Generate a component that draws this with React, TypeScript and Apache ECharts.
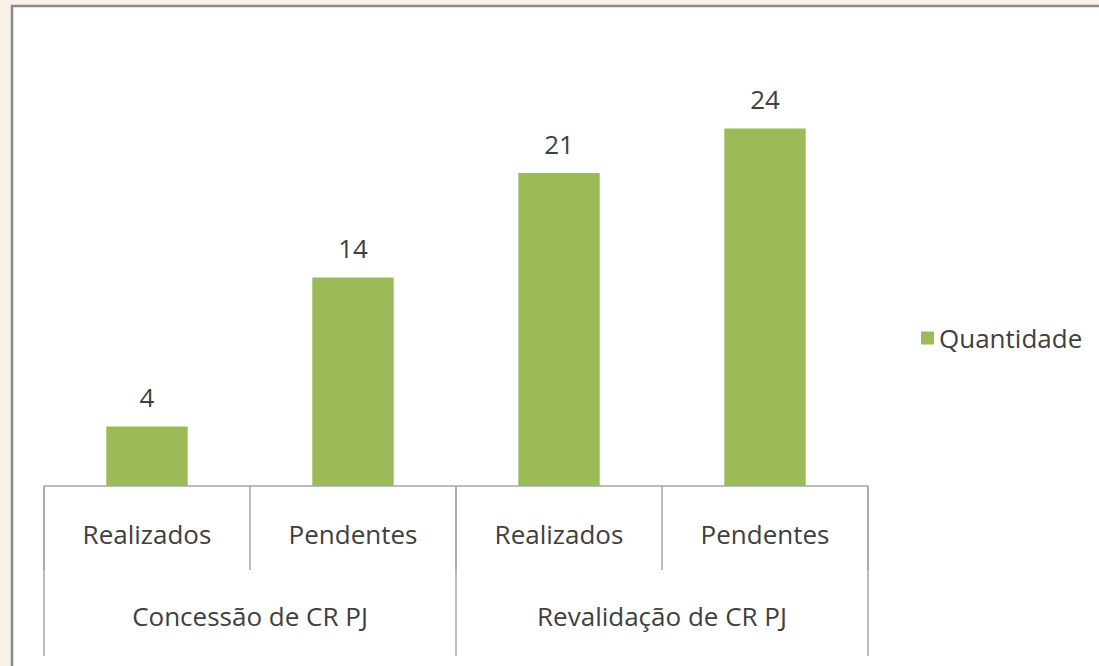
import React, { useEffect, useRef } from "react";
import * as echarts from "echarts";

const subCategories = ["Realizados", "Pendentes", "Realizados", "Pendentes"];
const groupCategories = ["Concessão de CR PJ", "Revalidação de CR PJ"];
const seriesName = "Quantidade";
const values = [4, 14, 21, 24];

const FONT = "'Open Sans', Lato, sans-serif";

export default function App() {
  const ref = useRef<HTMLDivElement>(null);
  useEffect(() => {
    if (!ref.current) return;
    const chart = echarts.init(ref.current, null, { renderer: "svg" });
    chart.setOption({
      animation: false,
      backgroundColor: "#f7f1ea",
      graphic: [
        {
          type: "rect",
          z: -10,
          shape: { x: 12, y: 6, width: 1200, height: 800 },
          style: { fill: "#ffffff", stroke: "#8a8a8a", lineWidth: 2.5 },
        },
      ],
      legend: {
        orient: "vertical",
        left: 916,
        top: 320,
        itemWidth: 13,
        itemHeight: 13,
        itemGap: 8,
        icon: "rect",
        textStyle: { fontFamily: FONT, fontSize: 26, color: "#404040" },
        data: [seriesName],
      },
      grid: { left: 44, right: 231, top: 39, bottom: 180, containLabel: false },
      xAxis: [
        {
          type: "category",
          data: subCategories,
          position: "bottom",
          axisLine: { show: true, lineStyle: { color: "#a6a6a6", width: 1.5 } },
          axisTick: {
            show: true,
            alignWithLabel: false,
            length: 84,
            lineStyle: { color: "#a6a6a6", width: 1.5 },
          },
          axisLabel: {
            margin: 35,
            fontFamily: FONT,
            fontSize: 26,
            color: "#404040",
          },
        },
        {
          type: "category",
          data: groupCategories,
          position: "bottom",
          axisLine: { show: false },
          axisTick: {
            show: true,
            length: 170,
            lineStyle: { color: "#a6a6a6", width: 1.5 },
          },
          axisLabel: {
            margin: 117,
            fontFamily: FONT,
            fontSize: 26,
            color: "#404040",
          },
        },
      ],
      yAxis: {
        type: "value",
        min: 0,
        max: 30,
        show: false,
        splitLine: { show: false },
      },
      series: [
        {
          name: seriesName,
          type: "bar",
          xAxisIndex: 0,
          data: values,
          barWidth: "39.5%",
          itemStyle: { color: "#9bbb59" },
          label: {
            show: true,
            position: "top",
            distance: 16,
            fontFamily: FONT,
            fontSize: 26,
            color: "#404040",
          },
        },
      ],
    });
    return () => chart.dispose();
  }, []);
  return (
    <div
      ref={ref}
      style={{ position: "absolute", left: 0, top: 0, width: 1099, height: 666 }}
    />
  );
}
